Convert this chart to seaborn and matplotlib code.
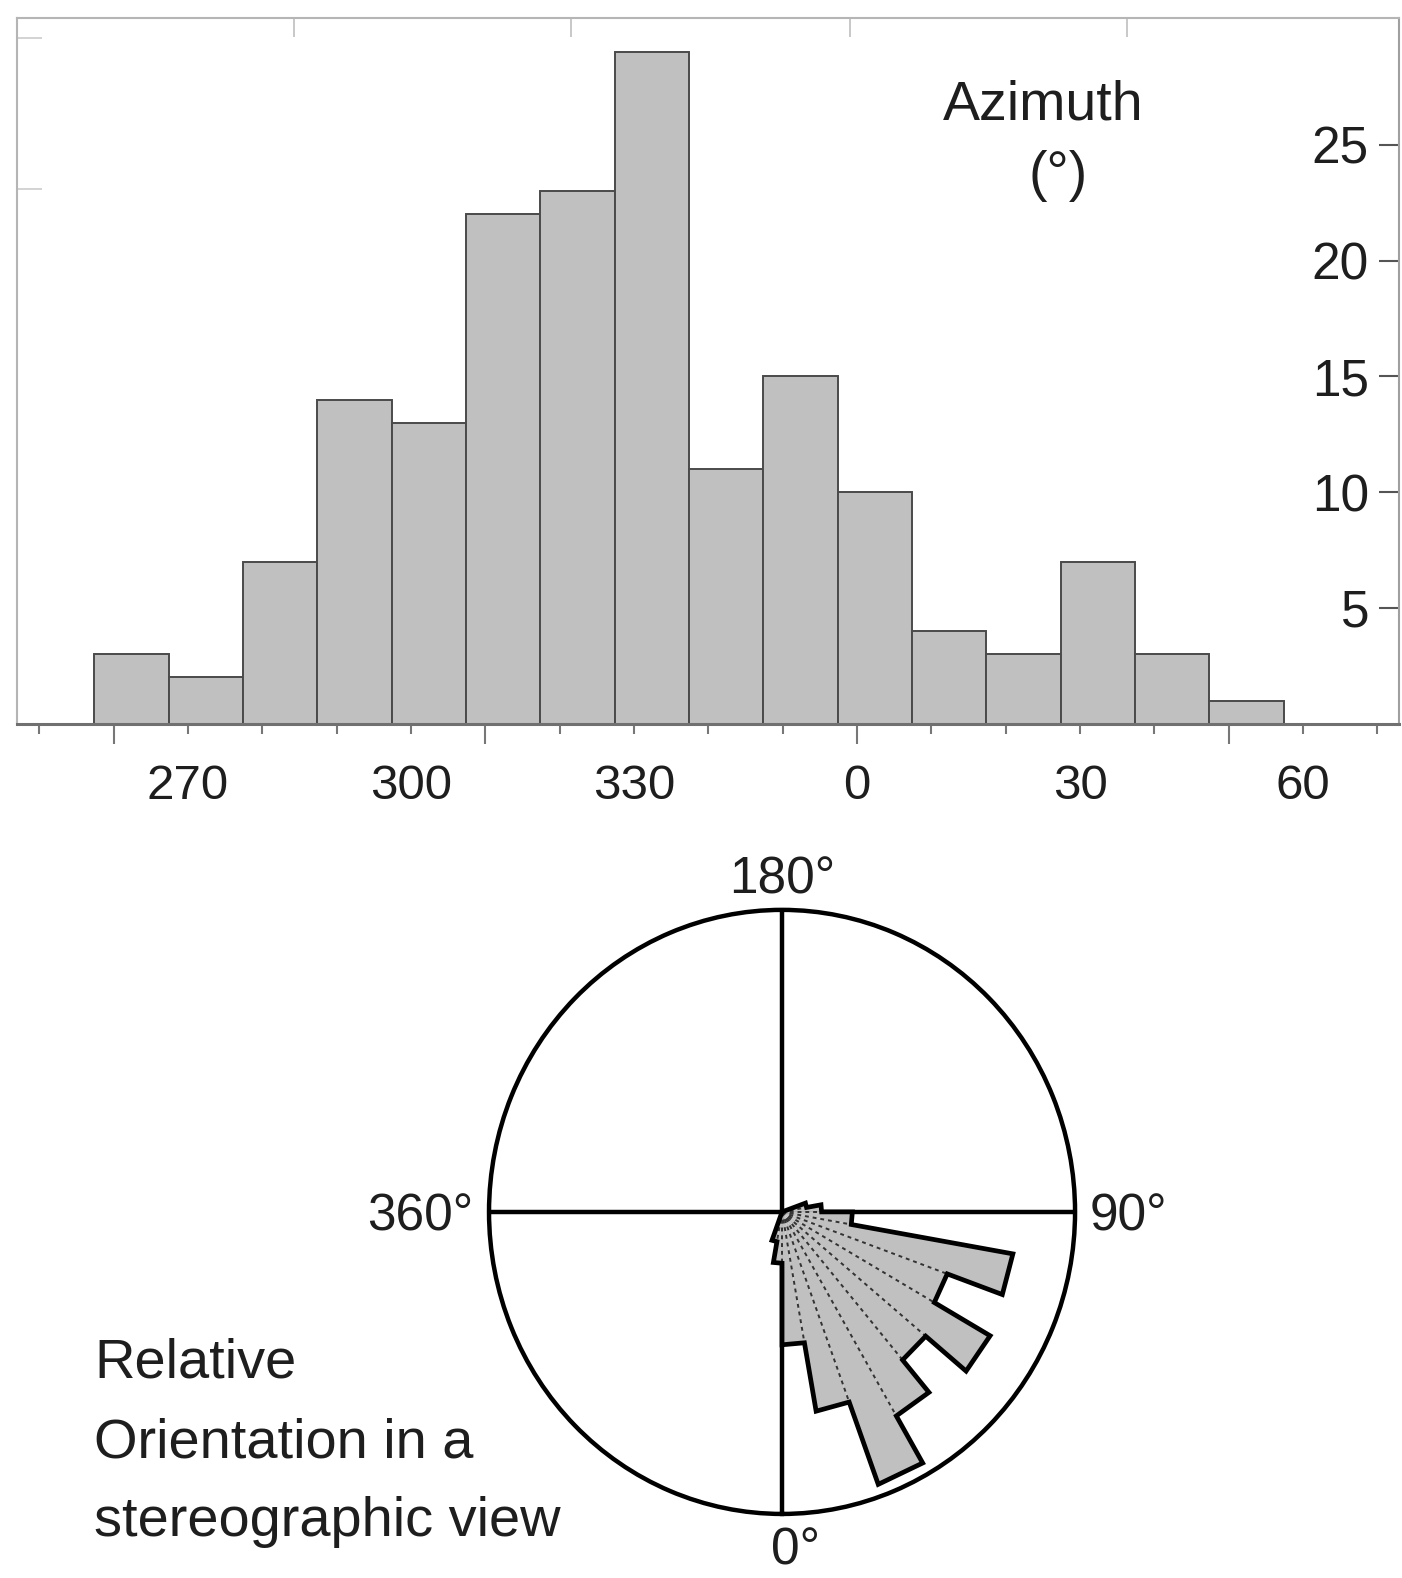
import numpy as np
import matplotlib
matplotlib.use("Agg")
import matplotlib.pyplot as plt
from matplotlib.ticker import FixedLocator, FuncFormatter
import seaborn as sns
import pandas as pd

# ---------------- data ----------------
# Azimuth histogram (unwrapped degrees: 360 == 0, 390 == 30, ...)
azimuth_bin_centers = [262.4, 272.4, 282.4, 292.4, 302.4, 312.4, 322.4, 332.4,
                       342.4, 352.4, 362.4, 372.4, 382.4, 392.4, 402.4, 412.4]
azimuth_counts = [3, 2, 7, 14, 13, 22, 23, 29, 11, 15, 10, 4, 3, 7, 3, 1]
bin_width = 10

xtick_positions = [270, 300, 330, 360, 390, 420]
xtick_labels = ["270", "300", "330", "0", "30", "60"]
long_tick_positions = [260, 310, 360, 410]
short_tick_positions = [250, 260, 270, 280, 290, 300, 310, 320, 330, 340, 350,
                        360, 370, 380, 390, 400, 410, 420, 430]
ytick_values = [5, 10, 15, 20, 25]
top_tick_positions = [284.3, 321.5, 359.1, 396.3]
left_tick_positions = [23.1, 29.6]

# Rose diagram (relative orientation, degrees; 0 at bottom, 90 at right)
rose_bin_starts = [340, 350, 0, 10, 20, 30, 40, 50, 60, 70, 80, 90, 100]
rose_lengths = [0.10, 0.17, 0.44, 0.67, 0.96, 0.78, 0.64, 0.82, 0.60, 0.80,
                0.24, 0.135, 0.085]
rose_axis_angles = [180, 0, 90, 270]
rose_axis_labels = ["180°", "0°", "90°", "360°"]

# ---------------- style ----------------
sns.set_style("white")
plt.rcParams["font.family"] = ["Liberation Sans", "DejaVu Sans"]
TXT = "#1e1e1e"

fig = plt.figure(figsize=(14.02, 15.78), dpi=100)

# ---------------- histogram ----------------
ax = fig.add_axes([0.01213, 0.54138, 0.98573, 0.44721])
df = pd.DataFrame({"azimuth": azimuth_bin_centers, "count": azimuth_counts})
edges = [c - bin_width / 2 for c in azimuth_bin_centers] + [azimuth_bin_centers[-1] + bin_width / 2]
sns.histplot(data=df, x="azimuth", weights="count", bins=edges, ax=ax,
             color="#c0c0c0", edgecolor="#4a4a4a", linewidth=1.4, alpha=1.0)
ax.set_xlim(247.0, 432.9)
ax.set_ylim(0, 30.48)
ax.set_xlabel("")
ax.set_ylabel("")

for name, sp in ax.spines.items():
    sp.set_visible(True)
    sp.set_color("#b5b5b5")
    sp.set_linewidth(1.5)
ax.spines["bottom"].set_color("#707070")
ax.spines["bottom"].set_linewidth(2.2)
ax.spines["right"].set_color("#a0a0a0")

# x ticks: long unlabeled (major) + short (minor), labels at 30 deg steps
label_map = dict(zip(xtick_positions, xtick_labels))
ax.xaxis.set_major_locator(FixedLocator(long_tick_positions))
ax.xaxis.set_minor_locator(FixedLocator(short_tick_positions))
fmt = FuncFormatter(lambda v, p: label_map.get(int(round(v)), "") if abs(v - round(v)) < 1e-6 else "")
ax.xaxis.set_major_formatter(fmt)
ax.xaxis.set_minor_formatter(fmt)
ax.tick_params(axis="x", which="major", direction="out", length=14.4, width=1.5,
               color="#777777", labelsize=35.5, labelcolor=TXT, pad=14.4,
               bottom=True, top=False, labelbottom=True)
ax.tick_params(axis="x", which="minor", direction="out", length=7.2, width=1.5,
               color="#777777", labelsize=35.5, labelcolor=TXT, pad=21.6,
               bottom=True, top=False, labelbottom=True)

# y ticks on the right, pointing in, labels inside
ax.yaxis.tick_right()
ax.set_yticks(ytick_values)
ax.set_yticklabels([str(v) for v in ytick_values])
ax.tick_params(axis="y", which="major", direction="in", length=14.4, width=1.5,
               color="#555555", labelsize=37, labelcolor=TXT, pad=-21.6,
               left=False, right=True, labelleft=False, labelright=True)
for lbl in ax.get_yticklabels():
    lbl.set_horizontalalignment("right")

# faint extra ticks on top / left frame
sec_top = ax.secondary_xaxis("top")
sec_top.set_xticks(top_tick_positions)
sec_top.set_xticklabels([""] * len(top_tick_positions))
sec_top.tick_params(direction="in", length=14, width=1.3, color="#c4c4c4", top=True)
for sp in sec_top.spines.values():
    sp.set_visible(False)
sec_left = ax.secondary_yaxis("left")
sec_left.set_yticks(left_tick_positions)
sec_left.set_yticklabels([""] * len(left_tick_positions))
sec_left.tick_params(direction="in", length=18, width=1.3, color="#d0d0d0", left=True)
for sp in sec_left.spines.values():
    sp.set_visible(False)

fig.text(1043.5 / 1402, 1 - 119 / 1578, "Azimuth", ha="center", va="baseline",
         fontsize=40, color=TXT)
fig.text(1058 / 1402, 1 - 190 / 1578, "(°)", ha="center", va="baseline",
         fontsize=40, color=TXT)

# ---------------- rose diagram ----------------
pax = fig.add_axes([0.3488, 0.0406, 0.418, 0.3828], projection="polar")
pax.set_aspect("auto")
pax.set_theta_zero_location("S")
pax.set_theta_direction(1)
pax.set_ylim(0, 1)
pax.set_axisbelow(True)

starts = np.array([((s + 180) % 360) - 180 for s in rose_bin_starts], dtype=float)
lengths = np.array(rose_lengths)
centers = starts + bin_width / 2
pax.bar(np.deg2rad(centers), lengths, width=np.deg2rad(bin_width),
        color="#c0c0c0", edgecolor="none", zorder=2)

# dashed internal boundaries
for i in range(len(starts) - 1):
    e = starts[i] + bin_width
    rm = min(lengths[i], lengths[i + 1])
    pax.plot(np.deg2rad([e, e]), [0, rm], color="#333333", lw=1.4,
             ls=(0, (2, 2)), zorder=3)

# outer outline
th = [starts[0]]
rr = [0.0]
for s, L in zip(starts, lengths):
    th += [s, s + bin_width]
    rr += [L, L]
th += [starts[-1] + bin_width]
rr += [0.0]
pax.plot(np.deg2rad(th), rr, color="black", lw=3.4, zorder=4,
         solid_joinstyle="miter")

pax.set_thetagrids([0, 90, 180, 270], labels=[""] * 4)
pax.set_yticks([])
pax.xaxis.grid(True, color="black", lw=3.2)
pax.yaxis.grid(False)
pax.spines["polar"].set_color("black")
pax.spines["polar"].set_linewidth(3.2)
pax.tick_params(axis="x", length=0)

label_style = {
    180: dict(t=180, r=1.053, ha="center", va="baseline"),
    0: dict(t=2.2, r=1.168, ha="center", va="baseline"),
    90: dict(t=90, r=1.051, ha="left", va="center_baseline"),
    270: dict(t=270, r=1.055, ha="right", va="center_baseline"),
}
for ang, lab in zip(rose_axis_angles, rose_axis_labels):
    st = label_style[ang]
    pax.text(np.deg2rad(st["t"]), st["r"], lab, ha=st["ha"], va=st["va"],
             fontsize=37, color=TXT, clip_on=False)

# description text
for txt, base in zip(["Relative", "Orientation in a", "stereographic view"],
                     [1378, 1457, 1536]):
    fig.text(94 / 1402, 1 - base / 1578, txt, ha="left", va="baseline",
             fontsize=40.3, color=TXT)

fig.savefig("out.png", dpi=100)
